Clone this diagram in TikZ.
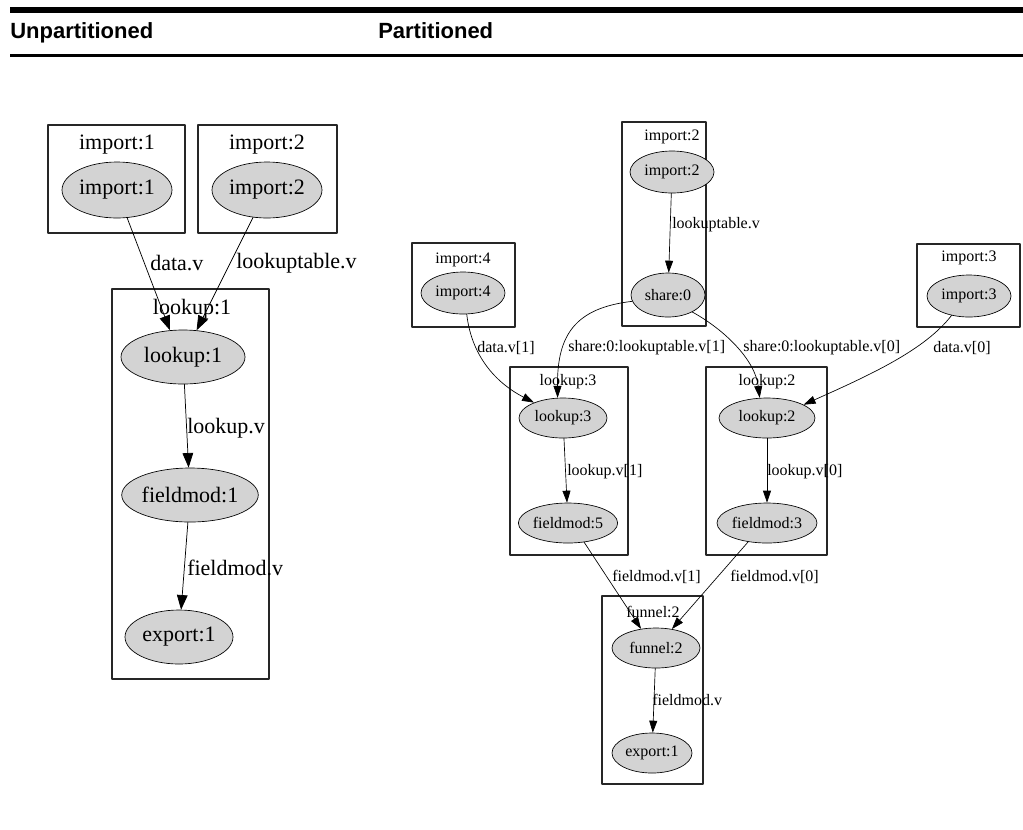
\documentclass[tikz,border=0pt]{standalone}
\usepackage{fontspec}
\setmainfont{Liberation Serif}
\newfontfamily\headfont{Liberation Sans}
\usetikzlibrary{shapes.geometric,arrows.meta}
\definecolor{nodegray}{HTML}{D3D3D3}
\tikzset{
  cluster/.style={draw=black!85,line width=0.8pt},
  ell/.style n args={2}{ellipse,draw,fill=nodegray,line width=0.5pt,inner sep=0pt,minimum width=#1*1.5pt,minimum height=#2*1.5pt},
  bigtxt/.style={font=\fontsize{16.5}{19}\selectfont,inner sep=0pt},
  smalltxt/.style={font=\fontsize{12}{14}\selectfont,inner sep=0pt},
  bigarr/.style={line width=0.55pt,-{Triangle[length=11pt,width=8pt]}},
  smallarr/.style={line width=0.5pt,-{Triangle[length=9pt,width=6pt]}},
  head/.style={anchor=base west,inner sep=0pt,font=\headfont\bfseries\fontsize{16.5}{19}\selectfont}
}
\begin{document}
\begin{tikzpicture}[line cap=round,line join=round,x=0.75pt,y=-0.75pt]
\useasboundingbox (0,0) rectangle (1023,829);
% heading
\fill (10,7) rectangle (1023,13);
\fill (10,54) rectangle (1023,57);
\node[head] (hleft) at (10,38) {Unpartitioned};
\node[head] (hright) at (378,38) {Partitioned};
% unpartitioned
\draw [cluster] (48,125) rectangle (185,233);
\draw [cluster] (198,125) rectangle (337,233);
\draw [cluster] (112,289) rectangle (269,679);
\node[bigtxt] (cimpA) at (117,145) {import:1};
\node[bigtxt] (cimpB) at (267,145) {import:2};
\node[bigtxt] (clkA) at (192,309) {lookup:1};
\node[ell={55}{28},bigtxt] (impA) at (117,190) {import:1};
\node[ell={55}{28},bigtxt] (impB) at (267,190) {import:2};
\node[ell={62}{27},bigtxt] (lkA) at (183,357) {lookup:1};
\node[ell={65}{27},bigtxt] (fmA) at (190,495) {fieldmod:1};
\node[ell={54}{27},bigtxt] (exA) at (179,637) {export:1};
\draw [bigarr] (impA.-70) -- (lkA.116);
\draw [bigarr] (impB.-117) -- (lkA.63);
\draw [bigarr] (lkA) -- (fmA);
\draw [bigarr] (fmA) -- (exA);
\node[bigtxt,anchor=west] (eA1) at (150,263) {data.v};
\node[bigtxt,anchor=west] (eA2) at (236,263) {lookuptable.v};
\node[bigtxt,anchor=west] (eA3) at (187,428) {lookup.v};
\node[bigtxt,anchor=west] (eA4) at (187,568) {fieldmod.v};
% partitioned
\draw [cluster] (622,122) rectangle (706,326);
\draw [cluster] (412,243) rectangle (515,327);
\draw [cluster] (917,244) rectangle (1020,327);
\draw [cluster] (510,367) rectangle (628,555);
\draw [cluster] (706,367) rectangle (827,555);
\draw [cluster] (602,596) rectangle (703,784);
\node[smalltxt] (cimpP2) at (672,137) {import:2};
\node[smalltxt] (cimpP4) at (463,260) {import:4};
\node[smalltxt] (cimpP3) at (969,258) {import:3};
\node[smalltxt] (clkP3) at (568,382) {lookup:3};
\node[smalltxt] (clkP2) at (767,382) {lookup:2};
\node[smalltxt] (cfnP2) at (653,612) {funnel:2};
\node[ell={42}{21},smalltxt] (impP2) at (672,172) {import:2};
\node[ell={37}{22},smalltxt] (shP0) at (668,295) {share:0};
\node[ell={42}{21},smalltxt] (impP4) at (463,293) {import:4};
\node[ell={42}{21},smalltxt] (impP3) at (969,296) {import:3};
\node[ell={44}{20},smalltxt] (lkP3) at (563,418) {lookup:3};
\node[ell={49}{20},smalltxt] (fmP5) at (568,523) {fieldmod:5};
\node[ell={48}{20},smalltxt] (lkP2) at (767,418) {lookup:2};
\node[ell={50}{20},smalltxt] (fmP3) at (767,523) {fieldmod:3};
\node[ell={44}{20},smalltxt] (fnP2) at (656,648) {funnel:2};
\node[ell={40}{20},smalltxt] (exP1) at (652,753) {export:1};
\draw [smallarr] (impP2) -- (shP0);
\draw [smallarr] (shP0.190) .. controls (575,308) and (557,335) .. (lkP3.105);
\draw [smallarr] (shP0.-35) .. controls (725,330) and (755,360) .. (lkP2.110);
\draw [smallarr] (impP4.-80) .. controls (472,360) and (500,385) .. (lkP3.152);
\draw [smallarr] (impP3.228) .. controls (925,350) and (870,375) .. (lkP2.20);
\draw [smallarr] (lkP3) -- (fmP5);
\draw [smallarr] (lkP2) -- (fmP3);
\draw [smallarr] (fmP5.-50) -- (fnP2.128);
\draw [smallarr] (fmP3.-135) -- (fnP2.50);
\draw [smallarr] (fnP2) -- (exP1);
\node[smalltxt,anchor=west] (eP1) at (672,225) {lookuptable.v};
\node[smalltxt,anchor=west] (eP2) at (477,348) {data.v[1]};
\node[smalltxt,anchor=west] (eP3) at (568,348) {share:0:lookuptable.v[1]};
\node[smalltxt,anchor=west] (eP4) at (743,348) {share:0:lookuptable.v[0]};
\node[smalltxt,anchor=west] (eP5) at (933,348) {data.v[0]};
\node[smalltxt,anchor=west] (eP6) at (567,472) {lookup.v[1]};
\node[smalltxt,anchor=west] (eP7) at (767,472) {lookup.v[0]};
\node[smalltxt,anchor=west] (eP8) at (612,577) {fieldmod.v[1]};
\node[smalltxt,anchor=west] (eP9) at (730,577) {fieldmod.v[0]};
\node[smalltxt,anchor=west] (eP10) at (652,700) {fieldmod.v};
\end{tikzpicture}
\end{document}
